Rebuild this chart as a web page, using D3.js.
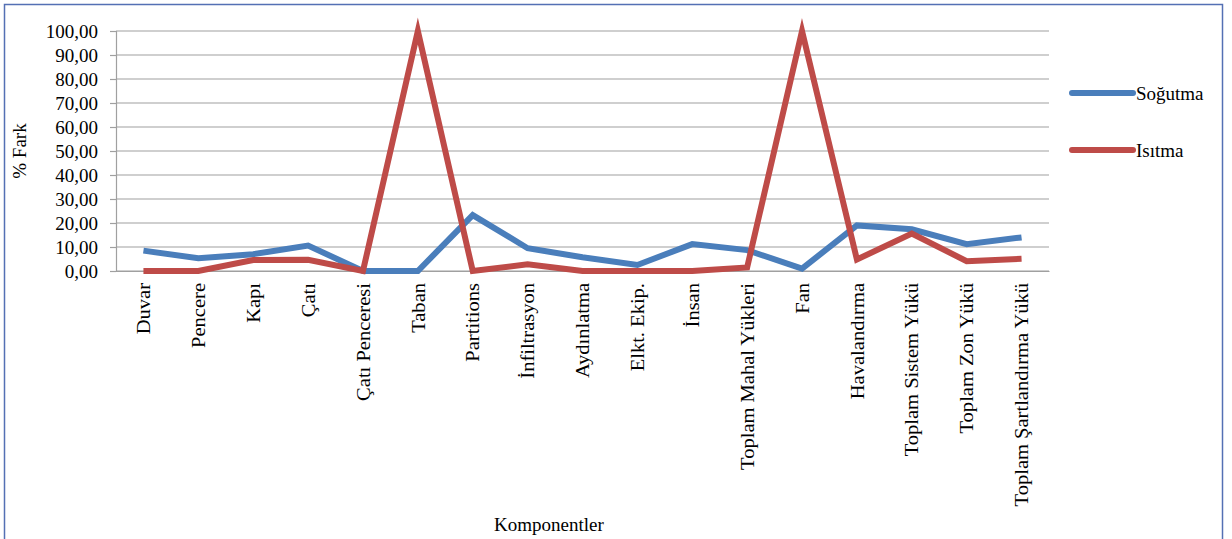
<!DOCTYPE html>
<html>
<head>
<meta charset="utf-8">
<script src="https://cdn.jsdelivr.net/npm/d3@7"></script>
<style>
  body { margin: 0; background: #fff; }
  svg { display: block; font-family: "Liberation Serif", "Times New Roman", serif; }
</style>
</head>
<body>
<div id="chart"></div>
<script>
// categories on the x axis
const components = ["Duvar", "Pencere", "Kapı", "Çatı", "Çatı Penceresi", "Taban", "Partitions",
  "İnfiltrasyon", "Aydınlatma", "Elkt. Ekip.", "İnsan", "Toplam Mahal Yükleri", "Fan",
  "Havalandırma", "Toplam Sistem Yükü", "Toplam Zon Yükü", "Toplam Şartlandırma Yükü"];

// % difference, cooling
const sogutma = [8.5, 5.3, 7.0, 10.6, 0, 0, 23.3, 9.5, 5.7, 2.5, 11.2, 8.7, 1.0, 19.0, 17.4, 11.2, 14.0];
// % difference, heating
const isitma = [0, 0, 4.6, 4.7, 0, 100, 0, 2.8, 0, 0, 0, 1.5, 100, 4.8, 15.6, 4.1, 5.1];

const yTicks = [0, 10, 20, 30, 40, 50, 60, 70, 80, 90, 100];

const series = [
  { name: "Soğutma", values: sogutma, color: "#4a7ebb" },
  { name: "Isıtma", values: isitma, color: "#be4b48" }
];

const width = 1232, height = 539;
const margin = { top: 31, right: 183, bottom: 268, left: 116 };
const fontSize = "19px";

const svg = d3.select("#chart").append("svg")
  .attr("width", width)
  .attr("height", height);

// outer frame
svg.append("rect")
  .attr("x", 4.5).attr("y", 4.5)
  .attr("width", 1218).attr("height", 545)
  .attr("fill", "none")
  .attr("stroke", "#5470b4")
  .attr("stroke-width", 1.5);

const x = d3.scaleBand()
  .domain(components)
  .range([margin.left, width - margin.right]);

const y = d3.scaleLinear()
  .domain([0, 100])
  .range([height - margin.bottom, margin.top]);

// gridlines
svg.append("g")
  .selectAll("line")
  .data(yTicks)
  .enter()
  .append("line")
  .attr("x1", margin.left)
  .attr("x2", width - margin.right)
  .attr("y1", d => y(d))
  .attr("y2", d => y(d))
  .attr("stroke", "#a0a0a0")
  .attr("stroke-width", 1.2);

// y axis
const yAxis = svg.append("g")
  .attr("transform", `translate(${margin.left},0)`)
  .call(d3.axisLeft(y).tickValues(yTicks).tickSize(6).tickPadding(12)
    .tickFormat(d => d3.format(".2f")(d).replace(".", ",")));
yAxis.select(".domain").attr("stroke", "#a0a0a0").attr("stroke-width", 1.2);
yAxis.selectAll(".tick line").attr("stroke", "#a0a0a0").attr("stroke-width", 1.2);
yAxis.selectAll("text")
  .attr("font-family", "Liberation Serif, serif")
  .attr("font-size", fontSize)
  .attr("fill", "#000");

// x axis
const xAxis = svg.append("g")
  .attr("transform", `translate(0,${height - margin.bottom})`)
  .call(d3.axisBottom(x).tickSize(0).tickPadding(0));
xAxis.select(".domain").attr("stroke", "#a0a0a0").attr("stroke-width", 1.2);
xAxis.selectAll("text")
  .attr("font-family", "Liberation Serif, serif")
  .attr("font-size", fontSize)
  .attr("fill", "#000")
  .attr("text-anchor", "end")
  .attr("dy", "0.35em")
  .attr("transform", "translate(0,12) rotate(-90) scale(1.08,1)");

// axis titles
svg.append("text")
  .attr("transform", `translate(26,${(margin.top + height - margin.bottom) / 2}) rotate(-90)`)
  .attr("text-anchor", "middle")
  .attr("font-family", "Liberation Serif, serif")
  .attr("font-size", fontSize)
  .text("% Fark");

svg.append("text")
  .attr("x", 549)
  .attr("y", 531)
  .attr("text-anchor", "middle")
  .attr("font-family", "Liberation Serif, serif")
  .attr("font-size", fontSize)
  .text("Komponentler");

// lines
const line = d3.line()
  .x((d, i) => x(components[i]) + x.bandwidth() / 2)
  .y(d => y(d));

svg.append("g")
  .selectAll("path")
  .data(series)
  .enter()
  .append("path")
  .attr("d", d => line(d.values))
  .attr("fill", "none")
  .attr("stroke", d => d.color)
  .attr("stroke-width", 6)
  .attr("stroke-linejoin", "miter")
  .attr("stroke-miterlimit", 10);

// legend
const legend = svg.append("g")
  .selectAll("g")
  .data(series)
  .enter()
  .append("g")
  .attr("transform", (d, i) => `translate(1072,${93 + i * 57})`);

legend.append("line")
  .attr("x1", 0).attr("x2", 61)
  .attr("stroke", d => d.color)
  .attr("stroke-width", 6)
  .attr("stroke-linecap", "round");

legend.append("text")
  .attr("x", 64)
  .attr("dy", "0.35em")
  .attr("font-family", "Liberation Serif, serif")
  .attr("font-size", fontSize)
  .text(d => d.name);
</script>
</body>
</html>
